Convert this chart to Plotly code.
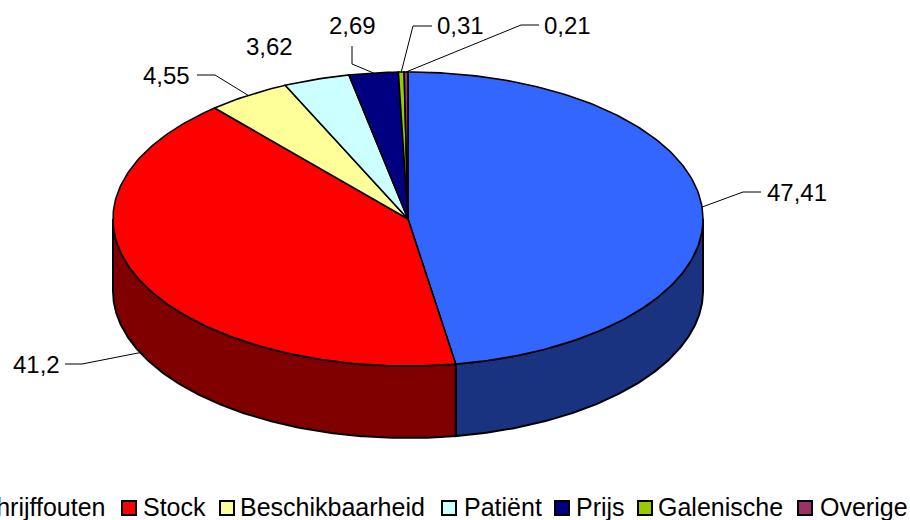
import numpy as np
import plotly.graph_objects as go

# Category data
categories = ["Schrijffouten", "Stock", "Beschikbaarheid", "Patiënt", "Prijs", "Galenische", "Overige"]
values = [47.41, 41.2, 4.55, 3.62, 2.69, 0.31, 0.21]
top_colors = ["#3366FF", "#FF0000", "#FFFF99", "#CCFFFF", "#000080", "#99CC00", "#993366"]
side_colors = ["#1A3380", "#800000", "#80804D", "#668080", "#000040", "#4D6600", "#4D1A33"]

# Pie geometry (pixel space)
CX, CY, RX, RY, DEPTH = 408, 219, 295, 147, 72
W, H = 910, 520
FONT = dict(family="Liberation Sans, Arial, sans-serif", size=24, color="black")
LEG_FONT = dict(family="Liberation Sans, Arial, sans-serif", size=25, color="black")

# Label layout: (text x, text y, anchor, leader elbow points)
label_layout = [
    (765, 192, "left", [(743, 192), (761, 192)]),
    (62, 364, "right", [(82, 364), (65, 364)]),
    (192, 75, "right", [(215, 75), (197, 75)]),
    (244, 46, "left", None),
    (327, 25, "left", [(352, 64), (352, 46)]),
    (435, 25, "left", [(413, 26), (432, 26)]),
    (542, 25, "left", [(521, 25), (539, 25)]),
]

# Legend layout: (marker left, text x, text anchor)
legend_layout = [(-46, 108, "right"), (122, 141, "left"), (220, 238, "left"),
                 (442, 462, "left"), (555, 574, "left"), (638, 656, "left"), (798, 818, "left")]
LEG_Y = 507
LEG_BOX = 14

total = sum(values)
fracs = np.array(values) / total
starts = np.concatenate([[0], np.cumsum(fracs)[:-1]]) * 2 * np.pi
ends = np.cumsum(fracs) * 2 * np.pi


def pt(a, dy=0.0):
    return CX + RX * np.sin(a), CY - RY * np.cos(a) + dy


fig = go.Figure()
line = dict(color="black", width=2)

# Front walls (visible part between 90 and 270 degrees)
for i in range(len(values)):
    a0 = max(starts[i], np.pi / 2)
    a1 = min(ends[i], 3 * np.pi / 2)
    if a1 <= a0:
        continue
    t = np.linspace(a0, a1, 200)
    xt, yt = pt(t)
    xb, yb = pt(t[::-1], DEPTH)
    fig.add_trace(go.Scatter(
        x=np.concatenate([xt, xb, xt[:1]]), y=np.concatenate([yt, yb, yt[:1]]),
        mode="lines", fill="toself", fillcolor=side_colors[i], line=line,
        hoverinfo="skip", showlegend=False))

# Top wedges
for i in range(len(values)):
    n = max(6, int(400 * fracs[i]))
    t = np.linspace(starts[i], ends[i], n)
    xs, ys = pt(t)
    fig.add_trace(go.Scatter(
        x=np.concatenate([[CX], xs, [CX]]), y=np.concatenate([[CY], ys, [CY]]),
        mode="lines", fill="toself", fillcolor=top_colors[i],
        line=dict(color="black", width=1.6),
        hoverinfo="skip", name=categories[i], showlegend=False))

# Data labels with leader lines
for i, v in enumerate(values):
    mid = (starts[i] + ends[i]) / 2
    ax, ay = pt(mid)
    if np.pi < mid < 3 * np.pi / 2:
        ax, ay = pt(mid, DEPTH - 1)
    tx, ty, anchor, elbow = label_layout[i]
    if elbow:
        fig.add_trace(go.Scatter(
            x=[ax] + [p[0] for p in elbow], y=[ay] + [p[1] for p in elbow],
            mode="lines", line=dict(color="black", width=1),
            hoverinfo="skip", showlegend=False))
    fig.add_annotation(x=tx, y=ty, text=f"{v:g}".replace(".", ","), showarrow=False,
                       xanchor=anchor, yanchor="middle", font=FONT)

# Legend
for i, name in enumerate(categories):
    mx, tx, anchor = legend_layout[i]
    fig.add_shape(type="rect", x0=mx, x1=mx + LEG_BOX, y0=LEG_Y + 1 - LEG_BOX / 2, y1=LEG_Y + 1 + LEG_BOX / 2,
                  fillcolor=top_colors[i], line=dict(color="black", width=2))
    fig.add_annotation(x=tx, y=LEG_Y, text=name, showarrow=False,
                       xanchor=anchor, yanchor="middle", font=LEG_FONT)

fig.update_layout(
    width=W, height=H, margin=dict(l=0, r=0, t=0, b=0),
    paper_bgcolor="white", plot_bgcolor="white", showlegend=False,
    xaxis=dict(range=[0, W], visible=False, fixedrange=True),
    yaxis=dict(range=[H, 0], visible=False, fixedrange=True),
)
fig.write_html("out.html")
